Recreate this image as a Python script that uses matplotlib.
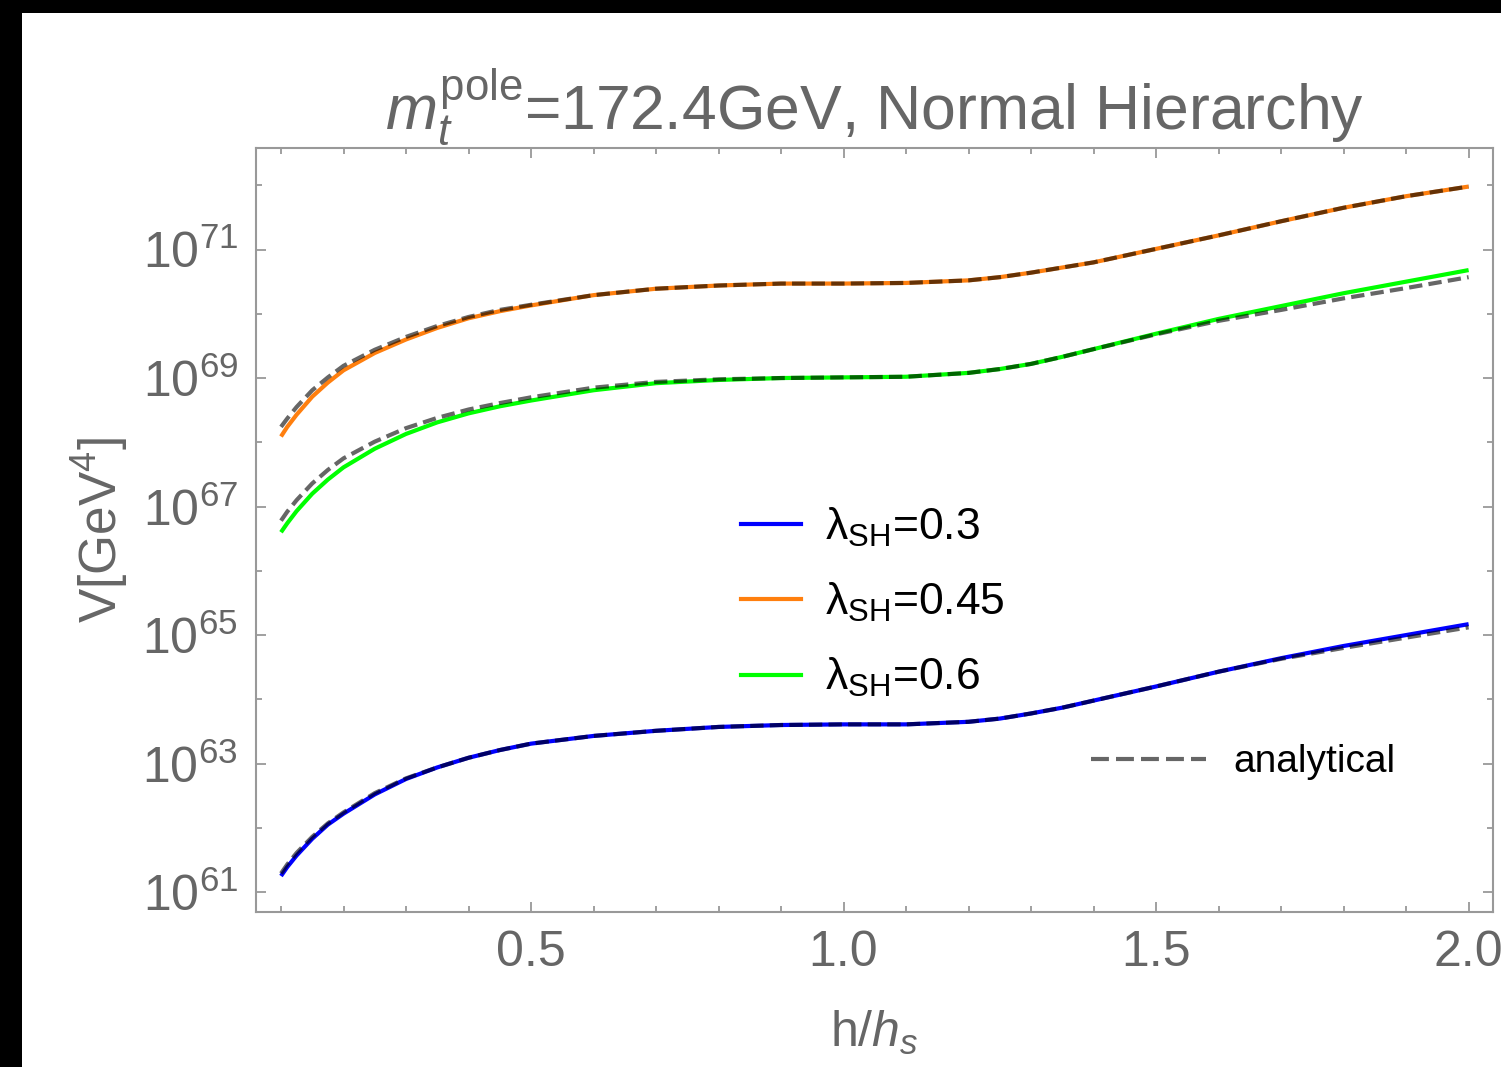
import numpy as np
import matplotlib
matplotlib.use("Agg")
import matplotlib.pyplot as plt
from matplotlib.lines import Line2D
from matplotlib.patches import Rectangle
from matplotlib.ticker import FixedLocator, FuncFormatter, NullFormatter

plt.rcParams['font.family'] = ['Liberation Sans', 'DejaVu Sans']
plt.rcParams['mathtext.fontset'] = 'custom'
plt.rcParams['mathtext.rm'] = 'Liberation Sans'
plt.rcParams['mathtext.it'] = 'Liberation Sans:italic'
plt.rcParams['mathtext.bf'] = 'Liberation Sans:bold'

# ---------------- data (log10 of V in GeV^4) ----------------
h = [0.10, 0.11, 0.125, 0.15, 0.175, 0.2, 0.25, 0.3, 0.35, 0.4, 0.45, 0.5, 0.6, 0.7,
     0.8, 0.9, 1.0, 1.1, 1.2, 1.25, 1.3, 1.35, 1.4, 1.5, 1.6, 1.7, 1.8, 1.9, 2.0]

logV_03 = [61.25, 61.39, 61.57, 61.83, 62.05, 62.22, 62.52, 62.76, 62.94, 63.09, 63.21, 63.31,
           63.43, 63.51, 63.57, 63.60, 63.61, 63.61, 63.65, 63.70, 63.78, 63.87, 63.98, 64.20,
           64.43, 64.64, 64.83, 65.00, 65.17]
logV_045 = [68.09, 68.24, 68.43, 68.71, 68.93, 69.12, 69.39, 69.60, 69.78, 69.93, 70.04, 70.13,
            70.29, 70.39, 70.44, 70.47, 70.47, 70.48, 70.52, 70.57, 70.64, 70.72, 70.80, 71.01,
            71.22, 71.44, 71.65, 71.83, 71.98]
logV_06 = [66.60, 66.74, 66.93, 67.20, 67.42, 67.61, 67.90, 68.13, 68.31, 68.45, 68.56, 68.65,
           68.81, 68.92, 68.97, 69.00, 69.01, 69.02, 69.08, 69.14, 69.22, 69.33, 69.45, 69.69,
           69.92, 70.12, 70.32, 70.50, 70.68]

# analytical approximations
logA_03 = [61.29, 61.43, 61.61, 61.86, 62.07, 62.24, 62.54, 62.77, 62.94, 63.09, 63.21, 63.31,
           63.43, 63.51, 63.57, 63.60, 63.61, 63.61, 63.65, 63.70, 63.78, 63.87, 63.98, 64.20,
           64.43, 64.63, 64.80, 64.96, 65.12]
logA_045 = [68.24, 68.37, 68.55, 68.81, 69.01, 69.19, 69.44, 69.64, 69.81, 69.95, 70.06, 70.14,
            70.29, 70.39, 70.44, 70.47, 70.47, 70.48, 70.52, 70.57, 70.64, 70.72, 70.80, 71.01,
            71.22, 71.44, 71.65, 71.83, 71.98]
logA_06 = [66.78, 66.92, 67.10, 67.36, 67.57, 67.75, 68.01, 68.22, 68.38, 68.51, 68.61, 68.70,
           68.85, 68.94, 68.98, 69.00, 69.01, 69.02, 69.08, 69.14, 69.22, 69.33, 69.45, 69.68,
           69.89, 70.06, 70.24, 70.40, 70.57]

labels = [r"λ$_{\rm SH}$=0.3", r"λ$_{\rm SH}$=0.45", r"λ$_{\rm SH}$=0.6"]
colors = ['#0000ff', '#ff7f0e', '#00ff00']

gray = '#666666'
frame_gray = '#999999'

fig = plt.figure(figsize=(15.01, 10.67), dpi=100)
fig.patch.set_facecolor('white')
# black strips at the top and left of the screenshot
fig.add_artist(Rectangle((0, 1 - 13 / 1067), 1, 13 / 1067, transform=fig.transFigure,
                         facecolor='black', edgecolor='none', zorder=10))
fig.add_artist(Rectangle((0, 0), 22 / 1501, 1, transform=fig.transFigure,
                         facecolor='black', edgecolor='none', zorder=10))

ax = fig.add_axes([256 / 1501, 155 / 1067, (1493 - 256) / 1501, (912 - 148) / 1067])

numerics = [logV_03, logV_045, logV_06]
analytics = [logA_03, logA_045, logA_06]

for lv, c in zip(numerics, colors):
    ax.plot(h, 10.0 ** np.array(lv), color=c, lw=3.0, solid_capstyle='butt')
for la in analytics:
    ax.plot(h, 10.0 ** np.array(la), color='black', alpha=0.6, lw=3.0,
            dashes=(3.2, 1.5), dash_capstyle='butt')

ax.set_yscale('log')
ax.set_xlim(0.06, 2.039)
ax.set_ylim(10 ** 60.69, 10 ** 72.58)

# ticks
ax.xaxis.set_major_locator(FixedLocator([0.5, 1.0, 1.5, 2.0]))
ax.xaxis.set_minor_locator(FixedLocator([0.1, 0.2, 0.3, 0.4, 0.6, 0.7, 0.8, 0.9,
                                         1.1, 1.2, 1.3, 1.4, 1.6, 1.7, 1.8, 1.9]))
ax.xaxis.set_major_formatter(FuncFormatter(lambda v, p: f"{v:.1f}"))
ax.yaxis.set_major_locator(FixedLocator([10.0 ** e for e in range(61, 73, 2)]))
ax.yaxis.set_minor_locator(FixedLocator([10.0 ** e for e in range(62, 73, 2)]))
ax.yaxis.set_major_formatter(FuncFormatter(lambda v, p: r"$10^{%d}$" % round(np.log10(v))))
ax.yaxis.set_minor_formatter(NullFormatter())

ax.tick_params(which='both', direction='in', top=True, right=True, color=frame_gray,
               width=1.3, labelcolor=gray, labelsize=36)
ax.tick_params(which='major', length=7, pad=13)
ax.tick_params(which='minor', length=4.5)
for sp in ax.spines.values():
    sp.set_color(frame_gray)
    sp.set_linewidth(1.5)

ax.set_title(r"$m_t^{\rm pole}$=172.4GeV, Normal Hierarchy", fontsize=45, color=gray, pad=4)
ax.set_xlabel(r"h/$h_s$", fontsize=36, color=gray, labelpad=24)
ax.set_ylabel(r"V[GeV$^4$]", fontsize=37, color=gray, labelpad=8)

# legends
h_num = [Line2D([], [], color=c, lw=3.0) for c in colors]
leg1 = ax.legend(h_num, labels, loc='center left', bbox_to_anchor=(0.392, 0.405),
                 frameon=False, fontsize=32, handlelength=1.35, handletextpad=0.55,
                 labelspacing=0.72, borderpad=0, borderaxespad=0)
ax.add_artist(leg1)
h_an = [Line2D([], [], color='black', alpha=0.6, lw=3.0, dashes=(4.3, 1.7))]
ax.legend(h_an, ["analytical"], loc='center left', bbox_to_anchor=(0.675, 0.196),
          frameon=False, fontsize=28, handlelength=2.95, handletextpad=0.7,
          borderpad=0, borderaxespad=0)

fig.savefig("out.png", dpi=100)
